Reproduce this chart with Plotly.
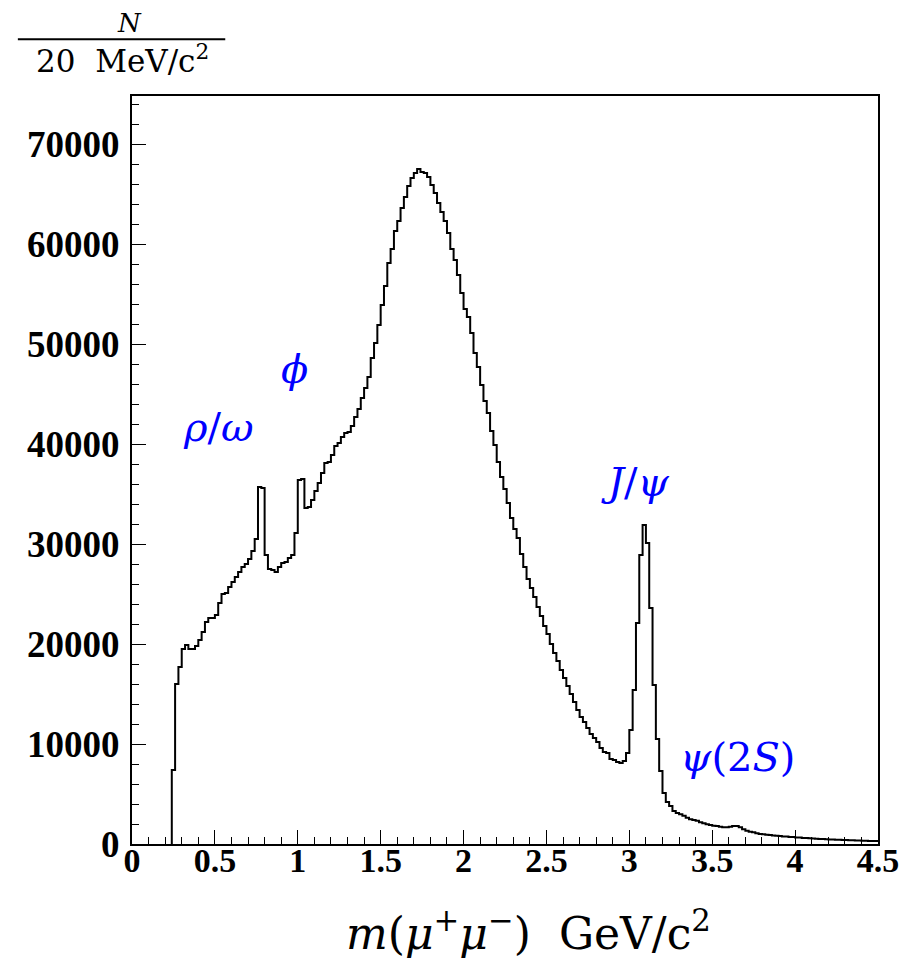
import plotly.graph_objects as go

# Histogram: 20 MeV/c^2 bins, first non-empty bin starts at 0.24 GeV/c^2
bin_low = 0.24
bin_width = 0.02
counts = [
    7400, 16000, 17700, 19500, 19900, 19500, 19500, 19800, 20400, 21200,
    22200, 22600, 22600, 22900, 24100, 25000, 25100, 25700, 26200, 26700,
    27200, 27700, 28000, 28500, 29300, 30500, 35700, 35600, 28900, 27500,
    27400, 27200, 27700, 28100, 28200, 28600, 28900, 31100, 36400, 36500,
    33600, 33700, 34400, 35300, 36100, 37100, 38100, 38200, 38900, 39800,
    40100, 40700, 41100, 41200, 41800, 42700, 43500, 44600, 45600, 46700,
    48600, 50100, 51900, 53900, 55800, 58100, 59500, 61300, 62300, 63600,
    64700, 65800, 66600, 67100, 67500, 67200, 67100, 66700, 65900, 65100,
    64100, 63200, 62300, 61100, 59500, 58400, 56900, 55100, 53500, 52700,
    51100, 49100, 47700, 45900, 44300, 43100, 41300, 39900, 38200, 36700,
    35500, 34100, 32600, 31500, 30600, 29000, 27700, 26500, 25600, 24700,
    23700, 22800, 21800, 21000, 20000, 19100, 18300, 17400, 16600, 15800,
    15000, 14200, 13400, 12700, 12200, 11600, 11000, 10600, 10200, 9600,
    9200, 9100, 8500, 8400, 8200, 8100, 8300, 9100, 11400, 15400,
    22100, 28900, 31900, 30100, 23600, 15900, 10500, 7300, 5100, 4200,
    3800, 3300, 3100, 2970, 2830, 2630, 2470, 2400, 2330, 2170,
    2070, 1970, 1900, 1830, 1800, 1730, 1670, 1670, 1730, 1800,
    1800, 1670, 1470, 1330, 1230, 1170, 1070, 1000, 970, 930,
    890, 860, 820, 790, 760, 740, 710, 690, 660, 640,
    610, 590, 570, 550, 530, 510, 490, 480, 460, 450,
    430, 420, 400, 390, 380, 370, 360, 340, 330, 320,
    310, 300, 290,
]

x_ticks = [0, 0.5, 1, 1.5, 2, 2.5, 3, 3.5, 4, 4.5]
x_tick_labels = ["0", "0.5", "1", "1.5", "2", "2.5", "3", "3.5", "4", "4.5"]
y_ticks = [0, 10000, 20000, 30000, 40000, 50000, 60000, 70000]
y_tick_labels = [str(v) for v in y_ticks]

resonance_labels = ["<i>ρ</i>/<i>ω</i>", "<i>ϕ</i>", "<i>J</i>/<i>ψ</i>", "<i>ψ</i>(2<i>S</i>)"]
resonance_x = [0.52, 0.98, 3.04, 3.65]
resonance_y = [41700, 47500, 36200, 8700]

edges = [bin_low + bin_width * i for i in range(len(counts) + 1)]
xs = [edges[0]] + edges
ys = [0] + counts + [counts[-1]]

fig = go.Figure()
fig.add_trace(go.Scatter(
    x=xs, y=ys, mode="lines", line=dict(shape="hv", color="black", width=2),
    hoverinfo="skip", showlegend=False,
))

fig.update_layout(
    width=913, height=953,
    margin=dict(l=124, r=43, t=88, b=117),
    paper_bgcolor="white", plot_bgcolor="white",
    showlegend=False,
)
fig.update_xaxes(
    range=[0, 4.5], tickvals=x_ticks, ticktext=x_tick_labels,
    ticks="inside", ticklen=14, tickwidth=1, tickcolor="black",
    minor=dict(dtick=0.1, ticks="inside", ticklen=7, tickwidth=1, tickcolor="black"),
    showline=True, linewidth=2, linecolor="black", mirror=True,
    showgrid=False, zeroline=False,
    tickfont=dict(family="Liberation Serif", size=34, color="black", weight="bold"),
    ticklabelstandoff=-15,
)
fig.update_yaxes(
    range=[0, 74800], tickvals=y_ticks, ticktext=y_tick_labels,
    ticks="inside", ticklen=14, tickwidth=1, tickcolor="black",
    minor=dict(dtick=2000, ticks="inside", ticklen=7, tickwidth=1, tickcolor="black"),
    showline=True, linewidth=2, linecolor="black", mirror=True,
    showgrid=False, zeroline=False,
    tickfont=dict(family="Liberation Serif", size=37, color="black", weight="bold"),
    ticklabelstandoff=3,
)

for txt, xv, yv in zip(resonance_labels, resonance_x, resonance_y):
    fig.add_annotation(x=xv, y=yv, text=txt, showarrow=False, xanchor="center", yanchor="middle",
                       font=dict(family="DejaVu Serif", size=40, color="#0000ff"))

# axis titles
fig.add_annotation(xref="paper", yref="paper", x=0.531, y=-0.116, xanchor="center", yanchor="middle",
                   text="<i>m</i>(<i>μ</i><sup>+</sup><i>μ</i><sup>−</sup>)  GeV/c<sup>2</sup>",
                   showarrow=False, font=dict(family="DejaVu Serif", size=44, color="black"))
fig.add_annotation(xref="paper", yref="paper", x=-0.003, y=1.098, xanchor="center", yanchor="middle",
                   text="<i>N</i>",
                   showarrow=False, font=dict(family="DejaVu Serif", size=26, color="black"))
fig.add_annotation(xref="paper", yref="paper", x=-0.013, y=1.050, xanchor="center", yanchor="middle",
                   text="20  MeV/c<sup>2</sup>",
                   showarrow=False, font=dict(family="DejaVu Serif", size=31, color="black"))
fig.add_shape(type="line", xref="paper", yref="paper", x0=-0.153, x1=0.125, y0=1.076, y1=1.076,
              line=dict(color="black", width=2))

fig.write_html("out.html")
